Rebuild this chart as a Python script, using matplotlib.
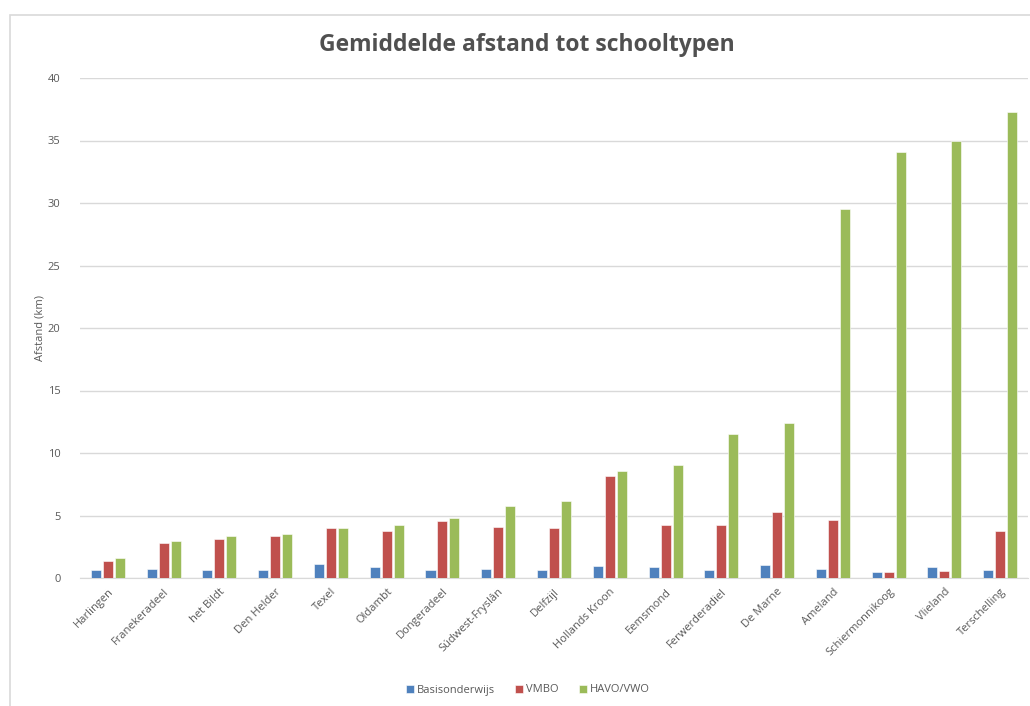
import matplotlib
matplotlib.use("Agg")
import matplotlib.pyplot as plt
from matplotlib.patches import Rectangle
import numpy as np

plt.rcParams["font.family"] = ["Open Sans", "DejaVu Sans"]

gemeenten = ["Harlingen", "Franekeradeel", "het Bildt", "Den Helder", "Texel", "Oldambt",
             "Dongeradeel", "Súdwest-Fryslân", "Delfzijl", "Hollands Kroon", "Eemsmond",
             "Ferwerderadiel", "De Marne", "Ameland", "Schiermonnikoog", "Vlieland",
             "Terschelling"]
basis = [0.65, 0.75, 0.65, 0.65, 1.1, 0.85, 0.65, 0.75, 0.65, 0.95, 0.85, 0.65, 1.05,
         0.75, 0.45, 0.85, 0.65]
vmbo = [1.35, 2.8, 3.1, 3.35, 4.0, 3.75, 4.55, 4.1, 4.0, 8.15, 4.25, 4.25, 5.25, 4.65,
        0.5, 0.6, 3.75]
havo_vwo = [1.6, 3.0, 3.35, 3.55, 4.0, 4.25, 4.8, 5.75, 6.2, 8.6, 9.05, 11.55, 12.4,
            29.5, 34.05, 35.0, 37.3]
yticks = [0, 5, 10, 15, 20, 25, 30, 35, 40]

GREY = "#595959"
fig = plt.figure(figsize=(10.3, 7.06), dpi=100)
fig.patches.append(Rectangle((10 / 1030, -0.1), 1.2, 1 - 15 / 706 + 0.1,
                             transform=fig.transFigure, fill=False,
                             edgecolor="#D9D9D9", lw=1.2))
ax = fig.add_axes([80 / 1030, 1 - 578 / 706, 948 / 1030, 500 / 706])

x = np.arange(len(gemeenten))
w, off = 0.18, 0.215
kw = dict(edgecolor="white", linewidth=0.4, zorder=3)
ax.bar(x - off, basis, w, color="#4F81BD", label="Basisonderwijs", **kw)
ax.bar(x, vmbo, w, color="#C0504D", label="VMBO", **kw)
ax.bar(x + off, havo_vwo, w, color="#9BBB59", label="HAVO/VWO", **kw)

ax.set_xlim(-0.5, len(gemeenten) - 0.5)
ax.set_ylim(0, 40)
ax.set_yticks(yticks)
ax.yaxis.grid(True, color="#D9D9D9", lw=1, zorder=0)
for s in ["top", "right", "left"]:
    ax.spines[s].set_visible(False)
ax.spines["bottom"].set_color("#D9D9D9")
ax.tick_params(axis="both", length=0, colors=GREY, labelsize=8)
ax.tick_params(axis="y", pad=14)
ax.set_xticks(x)
ax.set_xticklabels(gemeenten, rotation=45, ha="right", rotation_mode="anchor")
ax.tick_params(axis="x", pad=6)

ax.set_ylabel("Afstand (km)", color=GREY, fontsize=8, labelpad=2)
fig.text(527 / 1030, 1 - 45 / 706, "Gemiddelde afstand tot schooltypen", ha="center",
         va="center", fontsize=16.5, fontweight="bold", color="#505050")

ax.legend(loc="center", bbox_to_anchor=((528 - 80) / 948, -(690 - 578) / 500), ncol=3,
          frameon=False, fontsize=8, labelcolor=GREY, handlelength=0.7,
          handleheight=0.7, handletextpad=0.3, columnspacing=1.8)

fig.savefig("out.png", dpi=100)
